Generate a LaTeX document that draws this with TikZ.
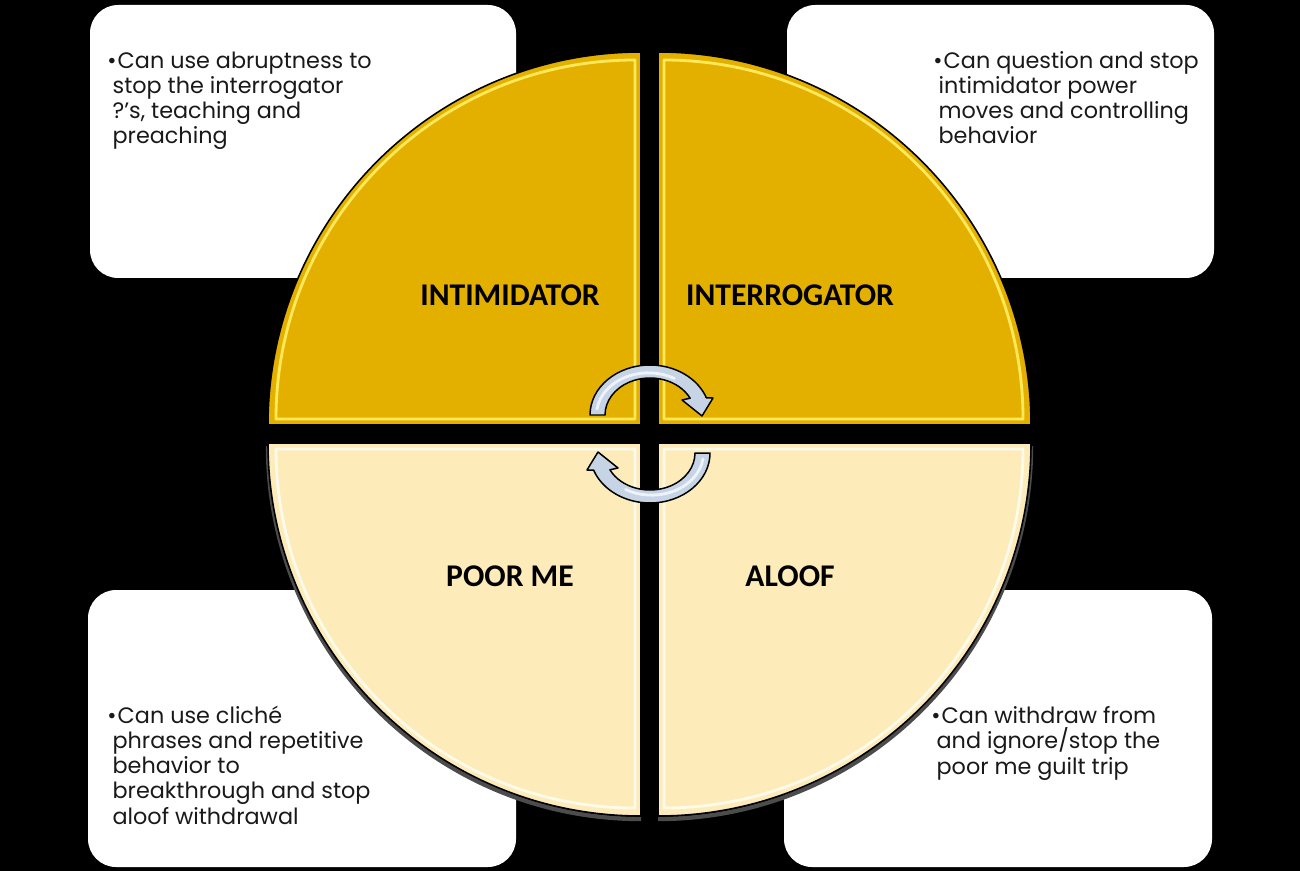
\documentclass[tikz,border=0pt]{standalone}
\usepackage{fontspec}
\setmainfont{Poppins}
\newfontfamily\lblfont{Carlito}
\definecolor{gold}{RGB}{228,176,0}
\definecolor{goldhi}{RGB}{255,232,90}
\definecolor{cream}{RGB}{253,235,186}
\definecolor{creamhi}{RGB}{255,251,235}
\definecolor{arrowfill}{RGB}{198,212,230}
\definecolor{arrowhi}{RGB}{238,243,250}
\definecolor{txt}{RGB}{25,25,25}
\begin{document}
\begin{tikzpicture}[x=0.02cm,y=-0.02cm,
  card/.style={fill=white, rounded corners=16pt},
  quad/.style={draw=black, line width=0.9pt},
  bevel/.style={line width=1.6pt, line join=round},
  body/.style={anchor=base west, inner sep=0pt, align=left, text=txt,
    font=\fontsize{12.7pt}{14.35pt}\selectfont},
  lbl/.style={inner sep=0pt, text=black, font=\lblfont\bfseries\fontsize{18pt}{20pt}\selectfont},
  cyc/.style={fill=arrowfill, draw=black, line width=0.85pt, line join=round}
]
% background
\fill[black] (0,0) rectangle (1300,871);
\useasboundingbox (0,0) rectangle (1300,871);

% cards
\path[card] (90,5) rectangle (516,278);
\path[card] (787,5) rectangle (1214,278);
\path[card] (88,590) rectangle (516,867);
\path[card] (784,590) rectangle (1212,867);

% shadows of arcs
\draw[black!70, line width=2.5pt] (268,446) arc[start angle=180,end angle=90,radius=373];
\draw[black!70, line width=2.5pt] (1031,446) arc[start angle=0,end angle=90,radius=373];

% quadrants
\draw[quad, fill=gold] (641,425) -- (268,425) arc[start angle=180,end angle=270,radius=373] -- cycle;
\draw[quad, fill=gold] (658,425) -- (658,52) arc[start angle=270,end angle=360,radius=373] -- cycle;
\draw[quad, fill=cream] (641,443) -- (268,443) arc[start angle=180,end angle=90,radius=373] -- cycle;
\draw[quad, fill=cream] (658,443) -- (1031,443) arc[start angle=0,end angle=90,radius=373] -- cycle;

% bevel highlights
\draw[bevel, goldhi] (635,419) -- (276,419) arc[start angle=180,end angle=270,radius=359] -- cycle;
\draw[bevel, goldhi] (664,419) -- (664,60) arc[start angle=270,end angle=360,radius=359] -- cycle;
\draw[bevel, creamhi] (635,449) -- (276,449) arc[start angle=180,end angle=90,radius=359] -- cycle;
\draw[bevel, creamhi] (664,449) -- (1023,449) arc[start angle=0,end angle=90,radius=359] -- cycle;

% cycle arrows
\begin{scope}[shift={(650,415)}, yscale=-1]
  \path[cyc] (-60,0) arc[start angle=180,end angle=20,x radius=60,y radius=50]
    -- (63,17) -- (52,-1) -- (32,15) -- (40.1,16.8)
    arc[start angle=27,end angle=180,x radius=45,y radius=37] -- cycle;
  \draw[arrowhi, line width=1.6pt, line cap=round] (-53,6) arc[start angle=172,end angle=60,x radius=52,y radius=42];
\end{scope}
\begin{scope}[shift={(650,453)}, yscale=-1, rotate=180]
  \path[cyc] (-60,0) arc[start angle=180,end angle=20,x radius=60,y radius=50]
    -- (63,17) -- (52,-1) -- (32,15) -- (40.1,16.8)
    arc[start angle=27,end angle=180,x radius=45,y radius=37] -- cycle;
  \draw[arrowhi, line width=1.6pt, line cap=round] (-53,6) arc[start angle=172,end angle=60,x radius=52,y radius=42];
\end{scope}

% labels
\node[lbl] (intim) at (510,295) {INTIMIDATOR};
\node[lbl] (inter) at (790,295) {INTERROGATOR};
\node[lbl] (poor) at (510,576) {POOR ME};
\node[lbl] (aloof) at (790,576) {ALOOF};

% texts (anchor = baseline of last line)
\node[body] (tl) at (107,144) {\makebox[5.9pt][l]{•}Can use abruptness to\\
\hspace{3pt}stop the interrogator\\
\hspace{3pt}?’s, teaching and\\
\hspace{3pt}preaching};
\node[body] (tr) at (933,144) {\makebox[5.9pt][l]{•}Can question and stop\\
\hspace{3pt}intimidator power\\
\hspace{3pt}moves and controlling\\
\hspace{3pt}behavior};
\node[body] (bl) at (107,824) {\makebox[5.9pt][l]{•}Can use cliché\\
\hspace{3pt}phrases and repetitive\\
\hspace{3pt}behavior to\\
\hspace{3pt}breakthrough and stop\\
\hspace{3pt}aloof withdrawal};
\node[body] (br) at (931,774) {\makebox[5.9pt][l]{•}Can withdraw from\\
\hspace{3pt}and ignore/stop the\\
\hspace{3pt}poor me guilt trip};
\end{tikzpicture}
\end{document}
